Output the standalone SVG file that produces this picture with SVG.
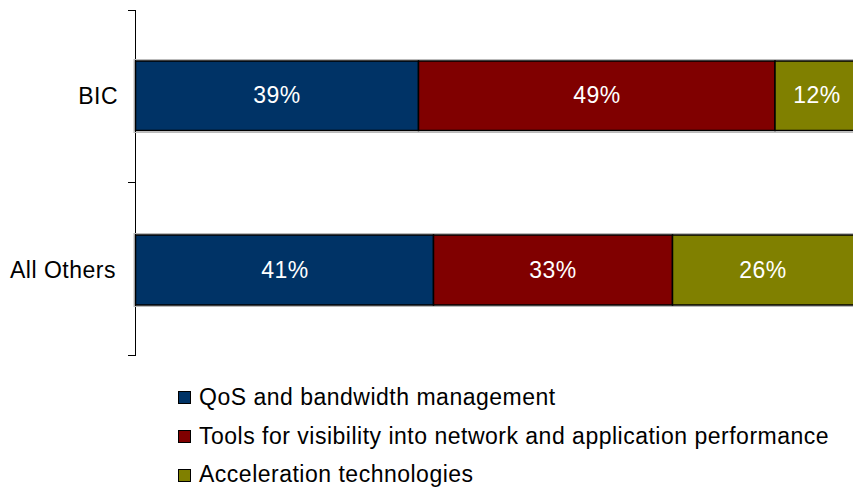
<svg xmlns="http://www.w3.org/2000/svg" width="853" height="487" viewBox="0 0 853 487">
<style>
text{font-family:"Liberation Sans",Arial,sans-serif;font-size:23px;fill:#000;letter-spacing:0.5px}
.v{fill:#fff;text-anchor:middle}
.cat{text-anchor:end}
.seg{stroke:#000;stroke-width:1.5}
.b{fill:#003366}.r{fill:#800000}.o{fill:#808000}
.sh{fill:none;stroke:#bbb;stroke-width:1}
.sw{stroke:#000;stroke-width:1}
</style>
<rect width="853" height="487" fill="#fff"/>
<g id="axis" stroke="#000" stroke-width="1" fill="none">
<line x1="135.5" y1="10" x2="135.5" y2="356"/>
<line x1="128" y1="10.5" x2="135.5" y2="10.5"/>
<line x1="128" y1="182.5" x2="135.5" y2="182.5"/>
<line x1="128" y1="355.5" x2="135.5" y2="355.5"/>
</g>
<g id="bar-bic">
<rect class="sh" x="134" y="59.5" width="730" height="73"/>
<rect class="seg b" x="135.5" y="61" width="283" height="69.5"/>
<rect class="seg r" x="418.5" y="61" width="356.5" height="69.5"/>
<rect class="seg o" x="775" y="61" width="90" height="69.5"/>
<text class="v" x="277" y="103">39%</text>
<text class="v" x="597" y="103">49%</text>
<text class="v" x="817" y="103">12%</text>
<text class="cat" x="118" y="104">BIC</text>
</g>
<g id="bar-others">
<rect class="sh" x="134" y="233.5" width="730" height="73"/>
<rect class="seg b" x="135.5" y="235" width="298" height="70"/>
<rect class="seg r" x="433.5" y="235" width="239" height="70"/>
<rect class="seg o" x="672.5" y="235" width="190" height="70"/>
<text class="v" x="285" y="278">41%</text>
<text class="v" x="553" y="278">33%</text>
<text class="v" x="763" y="278">26%</text>
<text class="cat" x="116" y="278">All Others</text>
</g>
<g id="legend">
<g id="legend-qos"><rect class="sw b" x="178.5" y="391.5" width="12" height="12"/><text x="199" y="405">QoS and bandwidth management</text></g>
<g id="legend-tools"><rect class="sw r" x="178.5" y="430.5" width="12" height="12"/><text x="199" y="444">Tools for visibility into network and application performance</text></g>
<g id="legend-accel"><rect class="sw o" x="178.5" y="469.5" width="12" height="12"/><text x="199" y="482">Acceleration technologies</text></g>
</g>
</svg>
